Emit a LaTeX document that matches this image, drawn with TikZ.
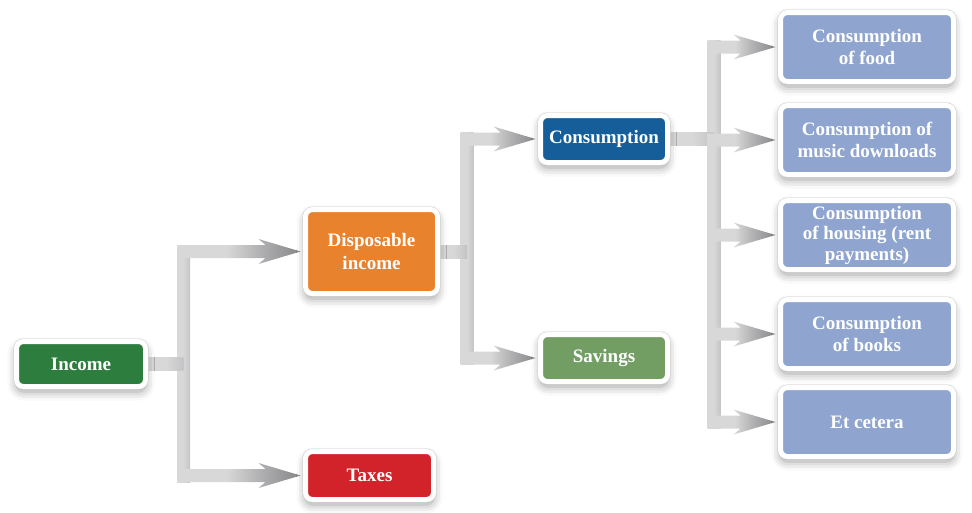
\documentclass[tikz,border=0pt]{standalone}
\usepackage{fontspec}
\setmainfont{Liberation Serif}
\usetikzlibrary{calc,backgrounds,shadows.blur}
\definecolor{incomeG}{RGB}{45,125,63}
\definecolor{dispO}{RGB}{233,130,45}
\definecolor{taxR}{RGB}{210,35,42}
\definecolor{consB}{RGB}{22,94,154}
\definecolor{savG}{RGB}{114,158,100}
\definecolor{itemB}{RGB}{143,165,207}
\definecolor{barlight}{RGB}{216,216,216}
\definecolor{barmid}{RGB}{178,178,180}
\definecolor{bardark}{RGB}{135,135,138}
\definecolor{bartrunk}{RGB}{196,196,198}
\pgfdeclarehorizontalshading{arrowshade}{100bp}{color(0bp)=(barlight); color(25bp)=(barlight); color(45bp)=(barlight); color(58bp)=(barmid); color(75bp)=(bardark); color(100bp)=(bardark)}
\pgfdeclarehorizontalshading{trunkshade}{100bp}{color(0bp)=(barlight); color(25bp)=(barlight); color(50bp)=(barlight); color(75bp)=(bartrunk); color(100bp)=(bartrunk)}
\newcommand\flowarrow[2]{%
  \shade[shading=arrowshade] ($(#1|-#2.west)+(-6.5,-6.5)$) -- ($(#2.west)+(-37.5,-6.5)$) -- ($(#2.west)+(-44.5,-12.5)$) -- ($(#2.west)+(-2.5,0)$) -- ($(#2.west)+(-44.5,12.5)$) -- ($(#2.west)+(-37.5,6.5)$) -- ($(#1|-#2.west)+(-6.5,6.5)$) -- cycle;}
\newcommand\flowstub[2]{%
  \shade[shading=trunkshade] ($(#1.east)+(0,-6.5)$) rectangle ($(#2|-#1.east)+(0,6.5)$);}
\begin{document}
\begin{tikzpicture}[x=1pt,y=-1pt,
  box/.style={draw=white, line width=5pt, rounded corners=7pt, inner sep=0pt,
    text=white, align=center, font=\fontsize{19}{22.5}\selectfont\bfseries,
    blur shadow={shadow xshift=0pt, shadow yshift=-5pt, shadow blur radius=9pt, shadow opacity=40},
    preaction={draw=black!20, line width=6pt}},
  item/.style={box, fill=itemB, minimum width=173pt, minimum height=69pt},
]
\useasboundingbox (0,0) rectangle (972,512);
\node[box, fill=incomeG, minimum width=129pt, minimum height=45pt] (inc) at (81,364) {Income};
\node[box, fill=dispO, minimum width=132pt, minimum height=84pt] (disp) at (371.5,251.5) {Disposable\\income};
\node[box, fill=taxR, minimum width=128pt, minimum height=48pt] (tax) at (369.5,475.5) {Taxes};
\node[box, fill=consB, minimum width=127pt, minimum height=47pt] (cons) at (604,139) {Consumption};
\node[box, fill=savG, minimum width=127pt, minimum height=47pt] (sav) at (604,358) {Savings};
\node[item] (food) at (867,47) {Consumption\\of food};
\node[item] (music) at (867,140) {Consumption of\\music downloads};
\node[item, font=\fontsize{19}{20.5}\selectfont\bfseries] (house) at (867,235) {Consumption\\of housing (rent\\payments)};
\node[item] (books) at (867,334) {Consumption\\of books};
\node[item] (etc) at (867,422) {Et cetera};
\coordinate (j1) at (183.5,0);
\coordinate (j2) at (467,0);
\coordinate (j3) at (714,0);
\begin{scope}[on background layer]
  % trunks
  \shade[shading=trunkshade] ($(j1|-disp.west)+(-6.5,-6.5)$) rectangle ($(j1|-tax.west)+(6.5,6.5)$);
  \shade[shading=trunkshade] ($(j2|-cons.west)+(-6.5,-6.5)$) rectangle ($(j2|-sav.west)+(6.5,6.5)$);
  \shade[shading=trunkshade] ($(j3|-food.west)+(-6.5,-6.5)$) rectangle ($(j3|-etc.west)+(6.5,6.5)$);
  % stubs
  \flowstub{inc}{j1}
  \flowstub{disp}{j2}
  \flowstub{cons}{j3}
  % branches
  \flowarrow{j1}{disp}
  \flowarrow{j1}{tax}
  \flowarrow{j2}{cons}
  \flowarrow{j2}{sav}
  \flowarrow{j3}{food}
  \flowarrow{j3}{music}
  \flowarrow{j3}{house}
  \flowarrow{j3}{books}
  \flowarrow{j3}{etc}
\end{scope}
\end{tikzpicture}
\end{document}
